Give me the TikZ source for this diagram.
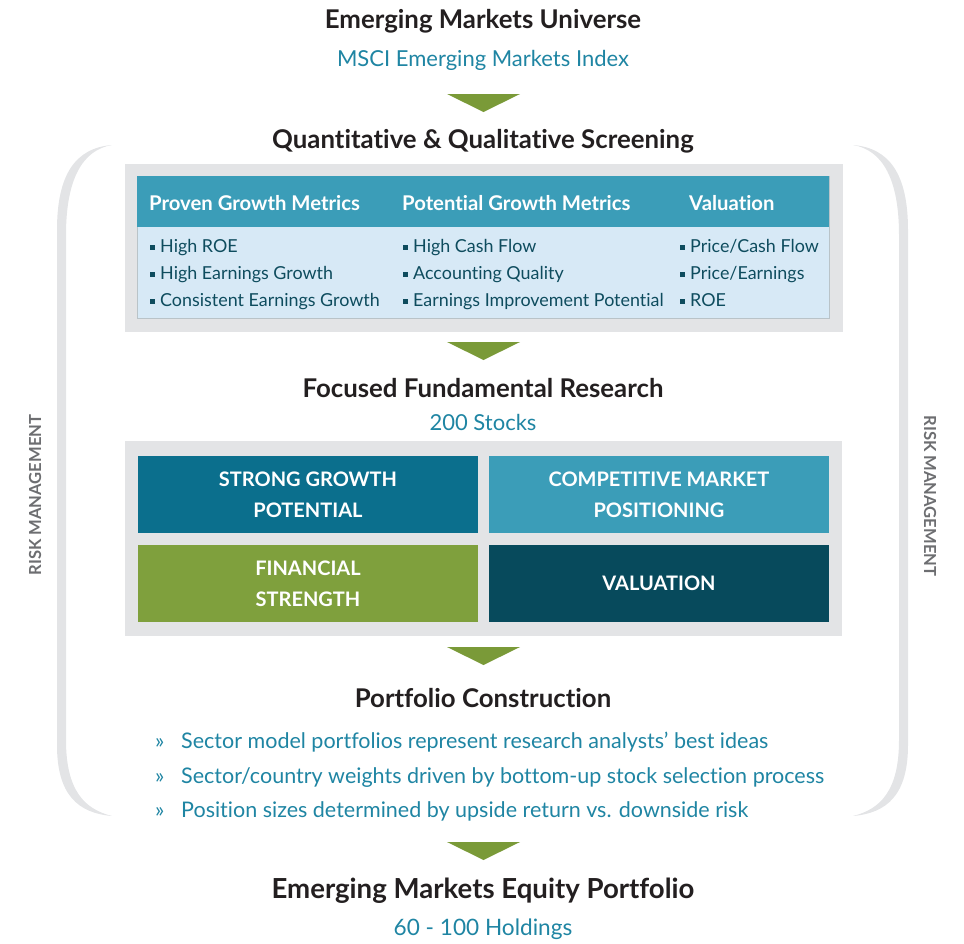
\documentclass[tikz,border=0pt]{standalone}
\usepackage{fontspec}
\setmainfont{Lato}[Ligatures=NoCommon]
\definecolor{titlecol}{HTML}{231F20}
\definecolor{tealtext}{HTML}{1F85A3}
\definecolor{headteal}{HTML}{3B9DB8}
\definecolor{darkteal}{HTML}{0B6F8D}
\definecolor{navyteal}{HTML}{074A5C}
\definecolor{cellgreen}{HTML}{7FA03D}
\definecolor{arrowgreen}{HTML}{7A9A38}
\definecolor{boxgray}{HTML}{E3E4E6}
\definecolor{lightblue}{HTML}{D7E9F6}
\definecolor{itemcol}{HTML}{0E4C5E}
\definecolor{riskgray}{HTML}{6D6E71}
\definecolor{edgegray}{HTML}{B9C3C8}
\newcommand\sqb{\rule[2.2pt]{5pt}{5pt}\hspace{5pt}}
\newcommand\rarr{\makebox[26pt][l]{»}}

\begin{document}
\begin{tikzpicture}[x=1pt,y=-1pt,
   heading/.style={font=\bfseries\fontsize{25.8}{30}\selectfont,text=titlecol},
   subhead/.style={font=\fontsize{22}{26}\selectfont,text=tealtext},
   colhead/.style={anchor=base west,inner sep=0pt,font=\bfseries\fontsize{20.3}{24}\selectfont,text=white},
   item/.style={anchor=base west,inner sep=0pt,font=\fontsize{17.9}{22}\selectfont,text=itemcol},
   cell/.style={minimum width=340pt,minimum height=77pt,inner sep=0pt,align=center,
      text=white,font=\bfseries\fontsize{20}{31}\selectfont},
   risk/.style={font=\bfseries\fontsize{16.6}{18}\selectfont,text=riskgray}]
\useasboundingbox (0,0) rectangle (964,943);

% side brackets
\foreach \s in {1,-1}{
  \begin{scope}[shift={({482.5*(1-\s)},0)},xscale=\s]
    \fill[boxgray] (112,145) .. controls (75,148) and (57,175) .. (57,230)
      -- (57,745) .. controls (57,795) and (78,813) .. (112,816)
      .. controls (84,809) and (66,790) .. (66,740)
      -- (66,235) .. controls (66,180) and (82,150) .. (112,145) -- cycle;
  \end{scope}
}
\node[risk,rotate=90] (riskl) at (35,495) {RISK MANAGEMENT};
\node[risk,rotate=-90] (riskr) at (930,496) {RISK MANAGEMENT};

% down arrows
\foreach \y in {94,342,647,842}
  \fill[arrowgreen] (447,\y) -- (520,\y) -- (483.5,\y+18) -- cycle;

\node[heading] (universe) at (483,21) {Emerging Markets Universe};
\node[subhead] (msci) at (483,60) {MSCI Emerging Markets Index};
\node[heading] (screen) at (483,141) {Quantitative \& Qualitative Screening};

% screening table
\fill[boxgray] (125,164) rectangle (843,332);
\filldraw[fill=lightblue,draw=edgegray] (137,176) rectangle (829,318);
\fill[headteal] (137,176) rectangle (829,227);
\node[colhead] (proven) at (149,210) {Proven Growth Metrics};
\node[colhead] (potential) at (402,210) {Potential Growth Metrics};
\node[colhead] (valuation) at (689,210) {Valuation};
\foreach \txt [count=\i] in {High ROE,High Earnings Growth,Consistent Earnings Growth}
  \node[item] (proven\i) at (150,225+27*\i) {\sqb\txt};
\foreach \txt [count=\i] in {High Cash Flow,Accounting Quality,Earnings Improvement Potential}
  \node[item] (potential\i) at (403,225+27*\i) {\sqb\txt};
\foreach \txt [count=\i] in {Price/Cash Flow,Price/Earnings,ROE}
  \node[item] (valuation\i) at (680,225+27*\i) {\sqb\txt};

\node[heading] (research) at (483,388) {Focused Fundamental Research};
\node[subhead] (stocks) at (483,422) {200 Stocks};

% research grid
\fill[boxgray] (125,441) rectangle (842,636);
\node[cell,fill=darkteal] (growth) at (308,494.5) {STRONG GROWTH\\POTENTIAL};
\node[cell,fill=headteal] (market) at (659,494.5) {COMPETITIVE MARKET\\POSITIONING};
\node[cell,fill=cellgreen] (strength) at (308,583.5) {FINANCIAL\\STRENGTH};
\node[cell,fill=navyteal] (value) at (659,583.5) {VALUATION};

\node[heading] (construction) at (483,698) {Portfolio Construction};
\node[anchor=west,inner sep=0pt,align=left,text=tealtext,font=\fontsize{21.5}{34.5}\selectfont] (bullets) at (155,777)
  {\rarr Sector model portfolios represent research analysts’ best ideas\\
   \rarr Sector/country weights driven by bottom-up stock selection process\\
   \rarr Position sizes determined by upside return vs. downside risk};

\node[heading,font=\bfseries\fontsize{27.6}{32}\selectfont] (equity) at (483,891) {Emerging Markets Equity Portfolio};
\node[subhead,font=\fontsize{22.6}{26}\selectfont] (holdings) at (483,929) {60 - 100 Holdings};
\end{tikzpicture}
\end{document}
